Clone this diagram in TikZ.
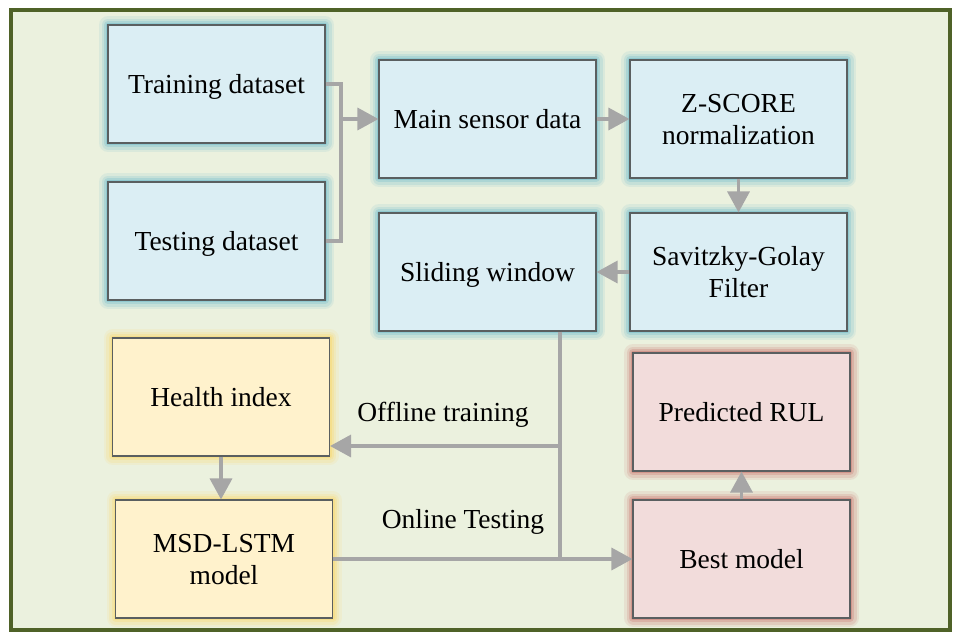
\documentclass[tikz,border=0pt]{standalone}
\usepackage{fontspec}
\setmainfont{Liberation Serif}
\usetikzlibrary{arrows.meta,calc}
\definecolor{bgc}{HTML}{EBF1DE}
\definecolor{framec}{HTML}{4F6228}
\definecolor{bluef}{HTML}{DBEEF4}
\definecolor{blueg}{HTML}{4BACC6}
\definecolor{yelf}{HTML}{FFF2CC}
\definecolor{yelg}{HTML}{FFD34D}
\definecolor{pinkf}{HTML}{F2DCDB}
\definecolor{pinkg}{HTML}{C0504D}
\definecolor{boxline}{HTML}{5A5F60}
\definecolor{arrc}{HTML}{A6A6A6}
\tikzset{
  glow/.style={
    preaction={draw=#1, line width=18pt, draw opacity=0.10, line join=round},
    preaction={draw=#1, line width=13pt, draw opacity=0.14, line join=round},
    preaction={draw=#1, line width=8pt, draw opacity=0.20, line join=round},
    preaction={draw=#1, line width=4pt, draw opacity=0.28, line join=round}},
  box/.style={draw=boxline, line width=1.1pt, minimum width=217pt, minimum height=118pt,
    inner sep=2pt, align=center, text depth=0pt, font=\fontsize{27.5}{32}\selectfont, text=black},
  bluebox/.style={box, fill=bluef, glow=blueg},
  yelbox/.style={box, fill=yelf, glow=yelg},
  pinkbox/.style={box, fill=pinkf, glow=pinkg},
  conn/.style={draw=arrc, line width=3.4pt},
  arr/.style={conn, -{Triangle[length=21pt,width=22pt]}},
  lbl/.style={font=\fontsize{27.5}{32}\selectfont, text=black, inner sep=0pt, anchor=base}
}
\begin{document}
\begin{tikzpicture}[x=1pt,y=-1pt]
\useasboundingbox (0,0) rectangle (961,640);
\fill[white] (0,0) rectangle (961,640);
\draw[framec, fill=bgc, line width=4pt] (11,10) rectangle (950,630);

\node[bluebox] (train) at (216.5,84) {Training dataset};
\node[bluebox] (test) at (216.5,241) {Testing dataset};
\node[bluebox] (main) at (487.5,119) {Main sensor data};
\node[bluebox] (z) at (738.5,119) {Z-SCORE\\normalization};
\node[bluebox] (slide) at (487.5,272) {Sliding window};
\node[bluebox] (sg) at (738.5,272) {Savitzky-Golay\\Filter};
\node[yelbox] (health) at (221,397) {Health index};
\node[yelbox] (msd) at (224,559) {MSD-LSTM\\model};
\node[pinkbox] (pred) at (741.5,412) {Predicted RUL};
\node[pinkbox] (best) at (741.5,559) {Best model};

\coordinate (j) at (341,119);
\coordinate (vx) at (560,0);
\coordinate (off) at (560,446);

\draw[conn] (train.east) -- (train.east -| j) -- (test.east -| j) -- (test.east);
\draw[arr] (j) -- (main.west);
\draw[arr] (main.east) -- (z.west);
\draw[arr] (z.south) -- (sg.north);
\draw[arr] (sg.west) -- (slide.east);
\draw[conn] (slide.south -| vx) -- (msd.east -| vx);
\draw[arr] (off) -- (off -| health.east);
\draw[arr] (msd.east) -- (best.west);
\draw[arr] (health.south) -- (health.south |- msd.north);
\draw[arr] (best.north) -- (pred.south);

\node[lbl] (offl) at (443,421) {Offline training};
\node[lbl] (onl) at (463,528.5) {Online Testing};
\end{tikzpicture}
\end{document}
